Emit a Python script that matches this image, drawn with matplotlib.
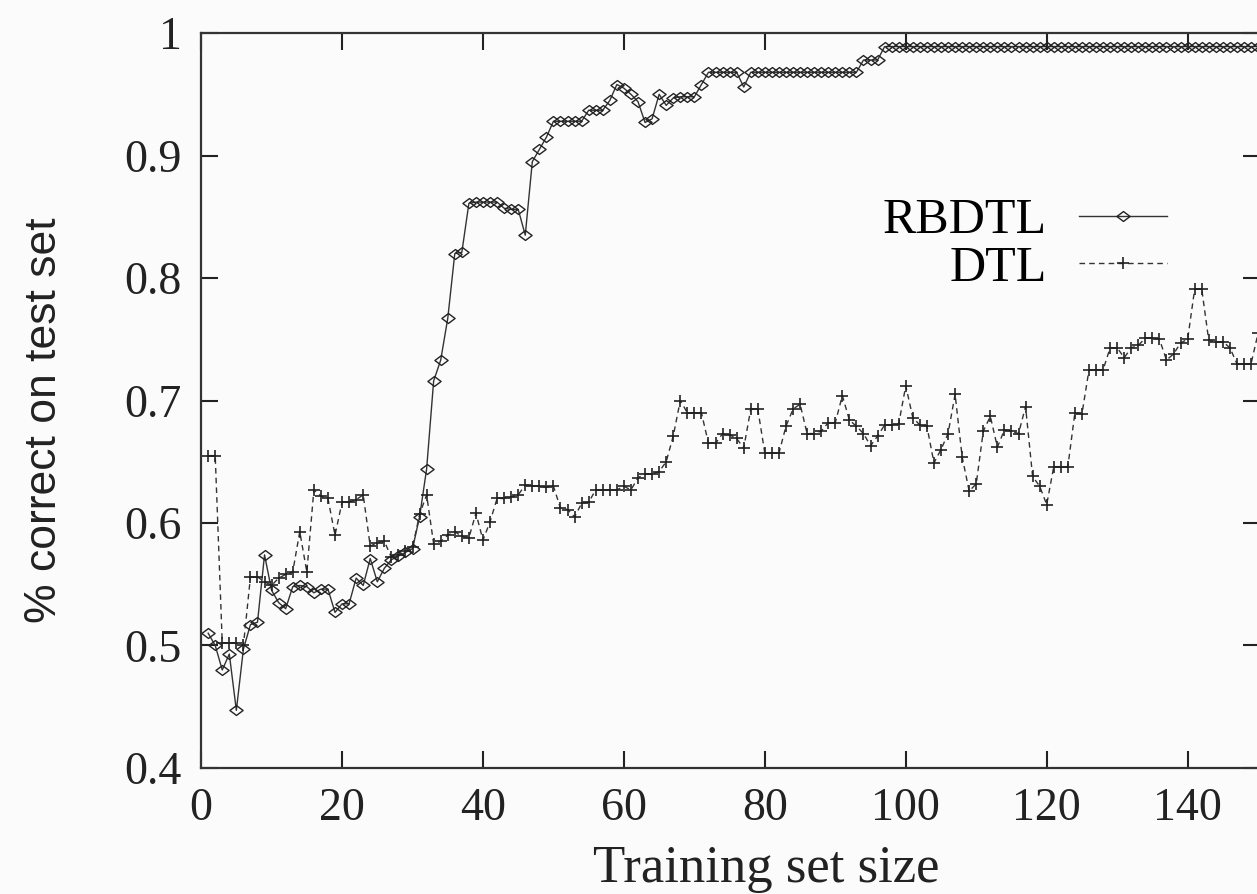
import numpy as np
import matplotlib
matplotlib.use("Agg")
import matplotlib.pyplot as plt
from matplotlib.path import Path
from matplotlib.legend_handler import HandlerLine2D

# training set sizes 1..150
sizes = list(range(1, 151))

rbdtl = [0.510, 0.500, 0.480, 0.493, 0.447, 0.497, 0.517, 0.519, 0.574, 0.545,
         0.535, 0.530, 0.548, 0.549, 0.548, 0.543, 0.546, 0.546, 0.527, 0.534,
         0.534, 0.555, 0.549, 0.571, 0.552, 0.563, 0.570, 0.573, 0.576, 0.579,
         0.605, 0.644, 0.716, 0.733, 0.767, 0.820, 0.821, 0.861, 0.862, 0.862,
         0.862, 0.862, 0.857, 0.856, 0.856, 0.835, 0.895, 0.905, 0.915, 0.928,
         0.928, 0.928, 0.928, 0.928, 0.937, 0.937, 0.937, 0.945, 0.958, 0.955,
         0.950, 0.944, 0.927, 0.930, 0.950, 0.941, 0.947, 0.948, 0.948, 0.948,
         0.958, 0.968, 0.968, 0.968, 0.968, 0.968, 0.956, 0.968, 0.968, 0.968,
         0.968, 0.968, 0.968, 0.968, 0.968, 0.968, 0.968, 0.968, 0.968, 0.968,
         0.968, 0.968, 0.968, 0.978, 0.978, 0.978] + [0.989] * 54

dtl = [0.655, 0.655, 0.502, 0.502, 0.502, 0.500, 0.556, 0.556, 0.552, 0.549,
       0.555, 0.558, 0.560, 0.593, 0.560, 0.627, 0.622, 0.620, 0.590, 0.617,
       0.617, 0.619, 0.623, 0.581, 0.584, 0.585, 0.572, 0.574, 0.577, 0.580,
       0.607, 0.623, 0.583, 0.585, 0.590, 0.593, 0.589, 0.588, 0.608, 0.586,
       0.601, 0.620, 0.620, 0.621, 0.623, 0.631, 0.630, 0.630, 0.629, 0.630,
       0.612, 0.611, 0.605, 0.616, 0.617, 0.627, 0.627, 0.627, 0.627, 0.630,
       0.627, 0.637, 0.640, 0.640, 0.642, 0.650, 0.671, 0.700, 0.690, 0.690,
       0.690, 0.665, 0.665, 0.673, 0.672, 0.669, 0.661, 0.693, 0.693, 0.657,
       0.657, 0.657, 0.679, 0.693, 0.697, 0.673, 0.673, 0.675, 0.682, 0.682,
       0.704, 0.684, 0.679, 0.673, 0.663, 0.671, 0.680, 0.680, 0.681, 0.712,
       0.686, 0.680, 0.679, 0.649, 0.660, 0.673, 0.705, 0.654, 0.626, 0.632,
       0.675, 0.687, 0.662, 0.676, 0.675, 0.673, 0.695, 0.638, 0.630, 0.615,
       0.646, 0.646, 0.646, 0.690, 0.689, 0.725, 0.725, 0.725, 0.743, 0.743,
       0.735, 0.743, 0.745, 0.751, 0.751, 0.750, 0.733, 0.738, 0.747, 0.750,
       0.791, 0.791, 0.749, 0.748, 0.748, 0.743, 0.730, 0.730, 0.730, 0.755]

xticks = [0, 20, 40, 60, 80, 100, 120, 140]
yticks = [0.4, 0.5, 0.6, 0.7, 0.8, 0.9, 1.0]
ytick_labels = ["0.4", "0.5", "0.6", "0.7", "0.8", "0.9", "1"]

plt.rcParams["font.family"] = ["Liberation Serif", "DejaVu Serif"]


# legend sample like gnuplot: marker sits left of the middle of the line
class OffsetMarkerHandler(HandlerLine2D):
    def get_xdata(self, legend, xdescent, ydescent, width, height, fontsize):
        xdata = np.array([-xdescent, -xdescent + width])
        return xdata, np.array([-xdescent + 0.33 * width])


# flat diamond
diamond = Path([(-1, 0), (0, 0.75), (1, 0), (0, -0.75), (-1, 0)],
               [Path.MOVETO, Path.LINETO, Path.LINETO, Path.LINETO, Path.CLOSEPOLY])

fig = plt.figure(figsize=(12.57, 8.94), dpi=100)
fig.patch.set_facecolor("#fbfbfb")
ax = fig.add_axes([0.16, 0.141, 0.842, 0.822])
ax.set_facecolor("#fbfbfb")

l1, = ax.plot(sizes, rbdtl, color="#333333", lw=1.0, marker=diamond, markersize=9.5,
              markerfacecolor="none", markeredgecolor="#222222", markeredgewidth=1.0,
              label="RBDTL")
l2, = ax.plot(sizes, dtl, color="#333333", lw=1.0, ls=(0, (4, 3)), marker="+",
              markersize=9, markeredgewidth=1.2, markeredgecolor="#222222",
              label="DTL")

ax.set_xlim(0, 150.2)
ax.set_ylim(0.4, 1.0)
ax.set_xticks(xticks)
ax.set_yticks(yticks)
ax.set_yticklabels(ytick_labels)
ax.tick_params(direction="in", length=12, width=1.5, labelsize=33, pad=14,
               top=True, right=True, colors="#222222")
for s in ax.spines.values():
    s.set_linewidth(1.6)
    s.set_color("#333333")

ax.set_xlabel("Training set size", fontsize=38, color="#222222", va="center")
ax.xaxis.set_label_coords(0.534, -0.138)
ax.set_ylabel("% correct on test set", fontsize=32, color="#222222", va="center",
              family=["Liberation Sans", "DejaVu Sans"])
ax.yaxis.set_label_coords(-0.148, 0.473)

leg = ax.legend(loc="upper right", bbox_to_anchor=(0.936, 0.81), frameon=False,
                markerfirst=False, fontsize=36, handlelength=1.75,
                labelspacing=0.02, handletextpad=0.65, borderpad=0,
                handler_map={l1: OffsetMarkerHandler(numpoints=1),
                             l2: OffsetMarkerHandler(numpoints=1)})
for t in leg.get_texts():
    t.set_ha("right")

fig.savefig("out.png", dpi=100, facecolor=fig.get_facecolor())
